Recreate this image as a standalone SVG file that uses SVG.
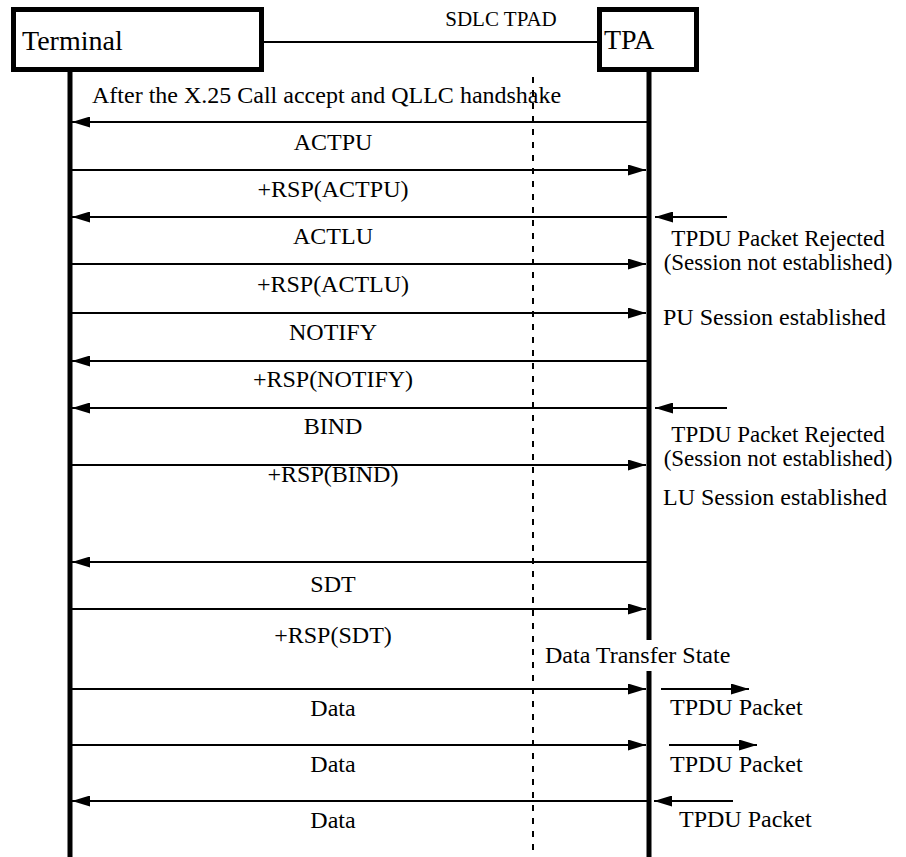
<svg xmlns="http://www.w3.org/2000/svg" width="906" height="857" viewBox="0 0 906 857">
  <style>
    text { font-family: "Liberation Serif", "Times New Roman", serif; fill: #000; }
    .lbl { font-size: 24px; }
    .side { font-size: 23px; }
    .mid { text-anchor: middle; }
    .title { font-size: 28px; }
    .box { fill: #fff; stroke: #000; stroke-width: 5; }
    .life { stroke: #000; stroke-width: 5; fill: none; }
    .msg { stroke: #000; stroke-width: 2; fill: none; }
    .guide { stroke: #000; stroke-width: 2; stroke-dasharray: 6 7; fill: none; }
  </style>
  <defs>
    <marker id="ah" markerWidth="18" markerHeight="11" refX="18" refY="5.5" orient="auto" markerUnits="userSpaceOnUse">
      <path d="M0,0 L18,5.5 L0,11 Z" fill="#000"/>
    </marker>
  </defs>
  <rect width="906" height="857" fill="#fff"/>

  <!-- centre guide line -->
  <line class="guide" x1="533" y1="77" x2="533" y2="857"/>

  <!-- participants -->
  <g id="terminal">
    <rect class="box" x="13.5" y="9.5" width="248" height="60"/>
    <text class="title" x="22" y="50">Terminal</text>
    <line class="life" x1="70" y1="72" x2="70" y2="857"/>
  </g>
  <g id="tpa">
    <rect class="box" x="599.5" y="9.5" width="97" height="60"/>
    <text class="title" x="604" y="49">TPA</text>
    <line class="life" x1="649" y1="72" x2="649" y2="640"/>
    <line class="life" x1="649" y1="671" x2="649" y2="857"/>
  </g>

  <!-- connectors -->
  <g id="connectors">
    <line class="msg" x1="262" y1="42" x2="597" y2="42"/>
    <line class="msg" x1="647" y1="122" x2="72" y2="122" marker-end="url(#ah)"/>
    <line class="msg" x1="72" y1="170" x2="646" y2="170" marker-end="url(#ah)"/>
    <line class="msg" x1="647" y1="217" x2="72" y2="217" marker-end="url(#ah)"/>
    <line class="msg" x1="72" y1="264" x2="646" y2="264" marker-end="url(#ah)"/>
    <line class="msg" x1="72" y1="313" x2="646" y2="313" marker-end="url(#ah)"/>
    <line class="msg" x1="647" y1="361" x2="72" y2="361" marker-end="url(#ah)"/>
    <line class="msg" x1="647" y1="408" x2="72" y2="408" marker-end="url(#ah)"/>
    <line class="msg" x1="72" y1="465" x2="646" y2="465" marker-end="url(#ah)"/>
    <line class="msg" x1="647" y1="562" x2="72" y2="562" marker-end="url(#ah)"/>
    <line class="msg" x1="72" y1="609" x2="646" y2="609" marker-end="url(#ah)"/>
    <line class="msg" x1="72" y1="689" x2="646" y2="689" marker-end="url(#ah)"/>
    <line class="msg" x1="72" y1="745" x2="646" y2="745" marker-end="url(#ah)"/>
    <line class="msg" x1="647" y1="801" x2="72" y2="801" marker-end="url(#ah)"/>
    <!-- packets on the X.25 side -->
    <line class="msg" x1="727" y1="217" x2="655" y2="217" marker-end="url(#ah)"/>
    <line class="msg" x1="727" y1="408" x2="655" y2="408" marker-end="url(#ah)"/>
    <line class="msg" x1="661" y1="689" x2="749" y2="689" marker-end="url(#ah)"/>
    <line class="msg" x1="669" y1="745" x2="757" y2="745" marker-end="url(#ah)"/>
    <line class="msg" x1="733" y1="801" x2="654" y2="801" marker-end="url(#ah)"/>
  </g>

  <!-- labels -->
  <g id="labels">
    <text class="mid" style="font-size:21px" x="501" y="26">SDLC TPAD</text>
    <text class="lbl" x="92" y="103">After the X.25 Call accept and QLLC handshake</text>
    <text class="lbl mid" x="333" y="150">ACTPU</text>
    <text class="lbl mid" x="333" y="197">+RSP(ACTPU)</text>
    <text class="lbl mid" x="333" y="244">ACTLU</text>
    <text class="lbl mid" x="333" y="292">+RSP(ACTLU)</text>
    <text class="lbl mid" x="333" y="340">NOTIFY</text>
    <text class="lbl mid" x="333" y="387">+RSP(NOTIFY)</text>
    <text class="lbl mid" x="333" y="434">BIND</text>
    <text class="lbl mid" x="333" y="482">+RSP(BIND)</text>
    <text class="lbl mid" x="333" y="592">SDT</text>
    <text class="lbl mid" x="333" y="643">+RSP(SDT)</text>
    <text class="lbl mid" x="333" y="716">Data</text>
    <text class="lbl mid" x="333" y="772">Data</text>
    <text class="lbl mid" x="333" y="828">Data</text>

    <text class="side mid" x="778" y="246">TPDU Packet Rejected</text>
    <text class="side mid" x="778" y="270">(Session not established)</text>
    <text class="lbl" x="663" y="325">PU Session established</text>
    <text class="side mid" x="778" y="442">TPDU Packet Rejected</text>
    <text class="side mid" x="778" y="466">(Session not established)</text>
    <text class="lbl" x="663" y="505">LU Session established</text>
    <text class="lbl" x="545" y="663">Data Transfer State</text>
    <text class="lbl" x="670" y="715">TPDU Packet</text>
    <text class="lbl" x="670" y="772">TPDU Packet</text>
    <text class="lbl" x="679" y="827">TPDU Packet</text>
  </g>
</svg>
